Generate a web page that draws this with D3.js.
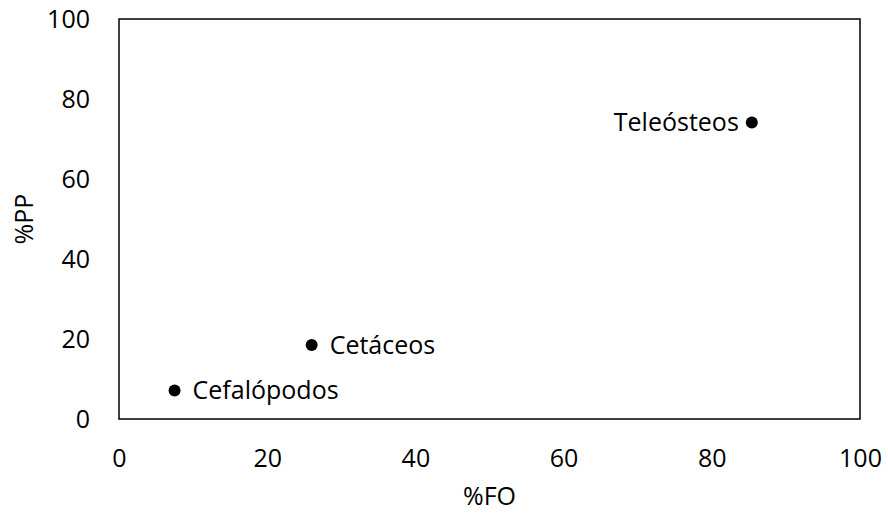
<!DOCTYPE html>
<html>
<head>
<meta charset="utf-8">
<script src="https://cdn.jsdelivr.net/npm/d3@7"></script>
<style>
  body { margin: 0; background: #fff; }
  text { font-family: "Open Sans", "Noto Sans", sans-serif; fill: #000; }
</style>
</head>
<body>
<div id="chart"></div>
<script>
// prey groups: %FO vs %PP
const names = ['Cefalópodos', 'Cetáceos', 'Teleósteos'];
const fo = [7.5, 26.0, 85.4];
const pp = [7.1, 18.5, 74.1];
const labelSide = ['right', 'right', 'left'];
const ticks = [0, 20, 40, 60, 80, 100];

const width = 888, height = 513;
const margin = {top: 19, right: 28, bottom: 94, left: 119};

const svg = d3.select('#chart')
  .append('svg')
    .attr('width', width)
    .attr('height', height);

const x = d3.scaleLinear()
  .domain([0, 100])
  .range([margin.left, width - margin.right]);

const y = d3.scaleLinear()
  .domain([0, 100])
  .range([height - margin.bottom, margin.top]);

// frame
svg.append('rect')
  .attr('x', x(0))
  .attr('y', y(100))
  .attr('width', x(100) - x(0))
  .attr('height', y(0) - y(100))
  .style('fill', 'none')
  .style('stroke', '#000')
  .style('stroke-width', 1.5);

// X axis labels
const xAxis = svg.append('g')
  .attr('transform', `translate(0, ${y(0)})`)
  .call(d3.axisBottom(x).tickValues(ticks).tickSize(0).tickPadding(30));
xAxis.select('.domain').remove();
xAxis.selectAll('text').style('font-size', '25px');

// Y axis labels
const yAxis = svg.append('g')
  .attr('transform', `translate(${x(0)}, 0)`)
  .call(d3.axisLeft(y).tickValues(ticks).tickSize(0).tickPadding(29));
yAxis.select('.domain').remove();
yAxis.selectAll('text').style('font-size', '25px');

// axis titles
svg.append('text')
  .attr('x', (x(0) + x(100)) / 2)
  .attr('y', 505)
  .attr('text-anchor', 'middle')
  .style('font-size', '25px')
  .text('%FO');

svg.append('text')
  .attr('transform', `translate(33, ${(y(0) + y(100)) / 2}) rotate(-90)`)
  .attr('text-anchor', 'middle')
  .style('font-size', '25px')
  .text('%PP');

const data = names.map((n, i) => ({name: n, fo: fo[i], pp: pp[i], side: labelSide[i]}));

// dots
svg.append('g')
  .selectAll('circle')
  .data(data)
  .enter()
  .append('circle')
  .attr('cx', d => x(d.fo))
  .attr('cy', d => y(d.pp))
  .attr('r', 6)
  .style('fill', '#000');

// point labels
svg.append('g')
  .selectAll('text')
  .data(data)
  .enter()
  .append('text')
  .attr('x', d => d.side === 'right' ? x(d.fo) + 18 : x(d.fo) - 13)
  .attr('y', d => y(d.pp))
  .attr('dy', '0.35em')
  .attr('text-anchor', d => d.side === 'right' ? 'start' : 'end')
  .style('font-size', '25px')
  .text(d => d.name);
</script>
</body>
</html>
